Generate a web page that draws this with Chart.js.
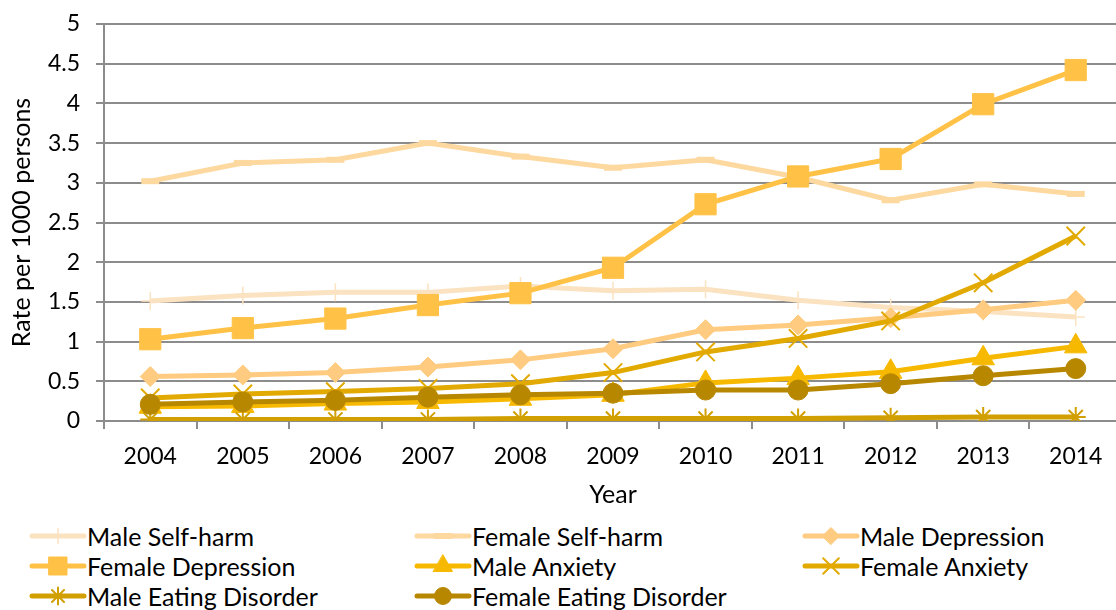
<!DOCTYPE html>
<html>
<head>
<meta charset="utf-8">
<script src="https://cdn.jsdelivr.net/npm/chart.js@4/dist/chart.umd.min.js"></script>
<style>
    html, body { margin: 0; padding: 0; background: #fff; overflow: hidden; }
    #wrap { position: relative; width: 1122px; height: 515px; }
    #chart { display: block; }
    #legend { position: absolute; left: 0; top: 515px; width: 1116px; height: 95px; }
    .item { position: absolute; height: 30px; display: flex; align-items: center;
            font-family: Lato, sans-serif; font-size: 25px; color: #000; white-space: nowrap; }
</style>
</head>
<body>
<div id="wrap"><canvas id="chart" width="1122" height="515"></canvas></div>
<div id="legend"></div>
<script>
// Data
const years = ['2004', '2005', '2006', '2007', '2008', '2009', '2010', '2011', '2012', '2013', '2014'];
const yTickValues = [0, 0.5, 1, 1.5, 2, 2.5, 3, 3.5, 4, 4.5, 5];

const maleSelfHarm     = [1.51, 1.58, 1.62, 1.62, 1.70, 1.64, 1.66, 1.52, 1.43, 1.38, 1.31];
const femaleSelfHarm   = [3.02, 3.25, 3.29, 3.50, 3.33, 3.19, 3.29, 3.07, 2.78, 2.98, 2.86];
const maleDepression   = [0.56, 0.58, 0.61, 0.68, 0.77, 0.91, 1.15, 1.21, 1.30, 1.40, 1.52];
const femaleDepression = [1.03, 1.17, 1.29, 1.46, 1.61, 1.93, 2.73, 3.08, 3.30, 3.99, 4.42];
const maleAnxiety      = [0.18, 0.19, 0.22, 0.24, 0.28, 0.33, 0.48, 0.54, 0.62, 0.79, 0.94];
const femaleAnxiety    = [0.29, 0.34, 0.37, 0.41, 0.47, 0.61, 0.87, 1.04, 1.26, 1.74, 2.33];
const maleEating       = [0.02, 0.02, 0.02, 0.02, 0.03, 0.03, 0.03, 0.03, 0.04, 0.05, 0.05];
const femaleEating     = [0.21, 0.24, 0.26, 0.30, 0.33, 0.35, 0.39, 0.39, 0.47, 0.57, 0.66];

// Series look (Excel-like markers)
const series = [
    { label: 'Male Self-harm', data: maleSelfHarm, color: '#FBE2C0', style: 'cross', radius: 9, bw: 1.5 },
    { label: 'Female Self-harm', data: femaleSelfHarm, color: '#FDD89F', style: 'line', radius: 9, bw: 6 },
    { label: 'Male Depression', data: maleDepression, color: '#FECB80', style: 'rectRot', radius: 10, bw: 1 },
    { label: 'Female Depression', data: femaleDepression, color: '#FFC247', style: 'rect', radius: 15, bw: 1 },
    { label: 'Male Anxiety', data: maleAnxiety, color: '#F7B900', style: 'triangle', radius: 13, bw: 1 },
    { label: 'Female Anxiety', data: femaleAnxiety, color: '#E2A900', style: 'crossRot', radius: 13, bw: 2 },
    { label: 'Male Eating Disorder', data: maleEating, color: '#D19F00', style: 'star', radius: 10, bw: 2 },
    { label: 'Female Eating Disorder', data: femaleEating, color: '#B88700', style: 'circle', radius: 10, bw: 1 }
];

const gridColor = '#8c8c8c';
const font = 'Lato';

function initChart() {
    const ctx = document.getElementById('chart');
    new Chart(ctx, {
        type: 'line',
        data: {
            labels: years,
            datasets: series.map((s, i) => ({
                label: s.label,
                data: s.data,
                borderColor: s.color,
                backgroundColor: s.color,
                borderWidth: 5,
                tension: 0,
                pointStyle: s.style,
                pointRadius: s.radius,
                pointHoverRadius: s.radius,
                pointBorderWidth: s.bw,
                pointBorderColor: s.color,
                pointBackgroundColor: s.color,
                order: series.length - i
            }))
        },
        options: {
            responsive: false,
            animation: false,
            layout: { autoPadding: false, padding: { top: 24, left: 0, right: 0, bottom: 0 } },
            plugins: {
                legend: { display: false },
                tooltip: { enabled: false }
            },
            scales: {
                x: {
                    offset: true,
                    afterFit: scale => { scale.height = 94; },
                    grid: {
                        offset: true,
                        drawOnChartArea: false,
                        drawTicks: true,
                        tickLength: 8,
                        color: gridColor,
                        lineWidth: 2
                    },
                    border: { color: gridColor, width: 2 },
                    ticks: {
                        color: '#000',
                        padding: 14,
                        maxRotation: 0,
                        font: { family: font, size: 23 }
                    },
                    title: {
                        display: true,
                        text: 'Year',
                        color: '#000',
                        padding: { top: 0, bottom: 5 },
                        font: { family: font, size: 25 }
                    }
                },
                y: {
                    min: 0,
                    max: 5,
                    afterFit: scale => {
                        scale.width = 104;
                        scale.paddingTop = 0;
                        scale.paddingBottom = 0;
                    },
                    afterBuildTicks: scale => { scale.ticks = yTickValues.map(v => ({ value: v })); },
                    grid: {
                        color: gridColor,
                        lineWidth: 2,
                        tickLength: 8
                    },
                    border: { color: gridColor, width: 2 },
                    ticks: {
                        color: '#000',
                        padding: 16,
                        font: { family: font, size: 23 },
                        callback: value => String(value)
                    },
                    title: {
                        display: true,
                        text: 'Rate per 1000 persons',
                        color: '#000',
                        padding: { top: 7, bottom: 0 },
                        font: { family: font, size: 25 }
                    }
                }
            }
        }
    });
}

// HTML legend laid out in three columns like the original
function initLegend() {
    const legend = document.getElementById('legend');
    const colLeft = [28, 413, 801];
    const rowTop = [6, 36, 66];

    series.forEach((s, i) => {
        const item = document.createElement('div');
        item.className = 'item';
        item.style.left = colLeft[i % 3] + 'px';
        item.style.top = rowTop[Math.floor(i / 3)] + 'px';

        const c = document.createElement('canvas');
        c.width = 59;
        c.height = 30;
        const g = c.getContext('2d');
        g.strokeStyle = s.color;
        g.fillStyle = s.color;
        g.lineWidth = 5;
        g.lineCap = 'round';
        g.beginPath();
        g.moveTo(4, 15);
        g.lineTo(56, 15);
        g.stroke();
        g.lineWidth = s.bw;
        Chart.helpers.drawPoint(g, {
            pointStyle: s.style,
            radius: s.radius * 0.85,
            borderWidth: s.bw,
            rotation: 0
        }, 30, 15);

        const text = document.createElement('span');
        text.textContent = s.label;

        item.appendChild(c);
        item.appendChild(text);
        legend.appendChild(item);
    });
}

document.addEventListener('DOMContentLoaded', () => {
    initChart();
    initLegend();
});
</script>
</body>
</html>
